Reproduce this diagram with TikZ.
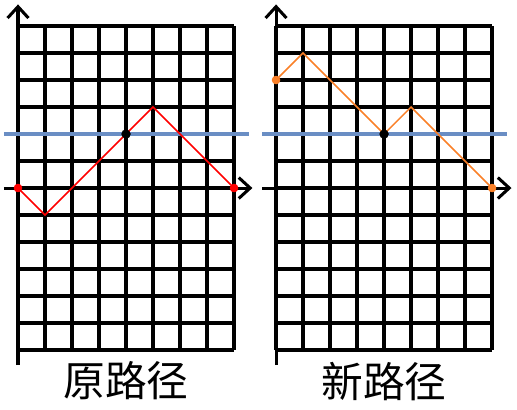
\documentclass[tikz,border=0pt]{standalone}
\usepackage{fontspec}
\newfontfamily\cjk{Noto Sans CJK SC}
\usetikzlibrary{arrows.meta, positioning}
\definecolor{levelblue}{RGB}{106,142,196}
\definecolor{pathorange}{RGB}{250,128,40}

\begin{document}
\begin{tikzpicture}[x=0.5cm, y=0.5cm,
  gridline/.style={line width=1.8pt, step=0.5cm},
  axisline/.style={line width=1.6pt, -{Straight Barb[length=6pt, width=11pt]}},
  levelline/.style={line width=2.2pt, levelblue},
  dot/.style={circle, inner sep=0pt, minimum size=4.4pt},
  hitdot/.style={dot, fill=black, minimum size=4.8pt},
  caption/.style={font=\cjk\fontsize{22}{22}\selectfont, inner sep=0pt}]
  \useasboundingbox (-0.667,-8.185) rectangle (18.48,6.963);

  % Original path (left)
  \draw[gridline] (0,-6) grid (8,6);
  \draw[axisline] (0,-6.56) -- (0,6.8);
  \draw[axisline] (-0.52,0) -- (8.68,0);
  \draw[levelline] (-0.52,2) -- (8.55,2);

  \node[dot, fill=red] (oldstart) at (0,0) {};
  \node[dot, fill=red] (oldend) at (8,0) {};
  \node[hitdot] (oldhit) at (4,2) {};
  \coordinate (oldlow) at (1,-1);
  \coordinate (oldtop) at (5,3);
  \draw[red, line width=0.8pt] (oldstart.center) -- (oldlow) -- (oldhit.center) -- (oldtop) -- (oldend.center);
  \node[dot, fill=red] at (oldstart) {};
  \node[dot, fill=red] at (oldend) {};
  \node[hitdot] at (oldhit) {};

  \node[caption] (oldlabel) at (4,-7.15) {原路径};

  % Reflected path (right)
  \begin{scope}[shift={(9.556,0)}]
    \draw[gridline] (0,-6) grid (8,6);
    \draw[axisline] (0,-6.56) -- (0,6.8);
    \draw[axisline] (-0.52,0) -- (8.72,0);
    \draw[levelline] (-0.52,2) -- (8.56,2);

    \node[dot, fill=pathorange] (newstart) at (0,4) {};
    \node[dot, fill=pathorange] (newend) at (8,0) {};
    \node[hitdot] (newhit) at (4,2) {};
    \coordinate (newtop) at (1,5);
    \coordinate (newpeak) at (5,3);
    \draw[pathorange, line width=0.8pt] (newstart.center) -- (newtop) -- (newhit.center) -- (newpeak) -- (newend.center);
    \node[dot, fill=pathorange] at (newstart) {};
    \node[dot, fill=pathorange] at (newend) {};
    \node[hitdot] at (newhit) {};

    \node[caption] (newlabel) at (4,-7.15) {新路径};
  \end{scope}
\end{tikzpicture}
\end{document}
